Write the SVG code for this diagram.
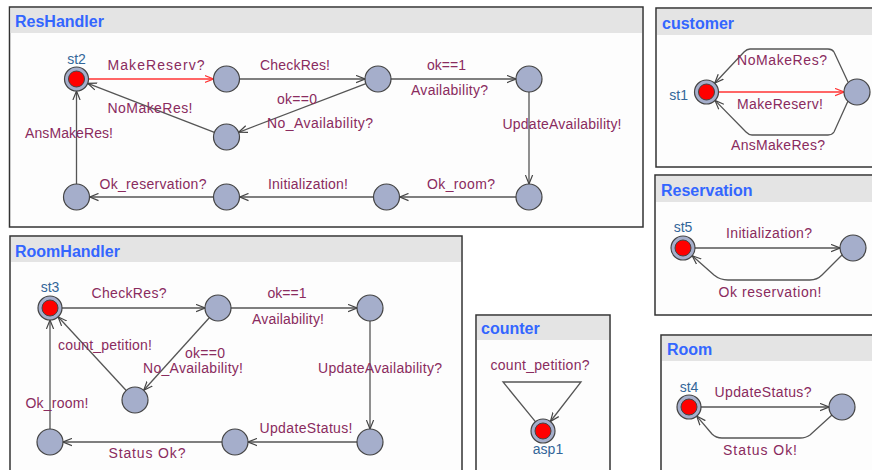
<svg xmlns="http://www.w3.org/2000/svg" width="872" height="470" viewBox="0 0 872 470">
<style>
.box{fill:#fdfdfd;stroke:#333;stroke-width:1.5}
.hdr{fill:#e4e4e4}
.title{font-family:"Liberation Sans",Arial,sans-serif;font-weight:bold;font-size:16px;fill:#3366ff}
.lbl{font-family:"Liberation Sans",Arial,sans-serif;font-size:14px;fill:#8a2b5e;text-anchor:middle}
.nm{font-family:"Liberation Sans",Arial,sans-serif;font-size:14px;fill:#336699;text-anchor:middle}
.loc{fill:#a5aecb;stroke:#444;stroke-width:1.2}
.init{fill:#ff0000;stroke:#444;stroke-width:1}
.e{fill:none;stroke:#555;stroke-width:1.3;marker-end:url(#arr)}
.er{fill:none;stroke:#ff3333;stroke-width:1.3;marker-end:url(#arrR)}
</style>
<defs>
<marker id="arr" viewBox="0 0 10 10" refX="10" refY="5" markerWidth="9" markerHeight="9" markerUnits="userSpaceOnUse" orient="auto"><path d="M0,1 L10,5 L0,9" fill="none" stroke="#444" stroke-width="1.3"/></marker>
<marker id="arrR" viewBox="0 0 10 10" refX="10" refY="5" markerWidth="9" markerHeight="9" markerUnits="userSpaceOnUse" orient="auto"><path d="M0,1 L10,5 L0,9" fill="none" stroke="#ff3333" stroke-width="1.3"/></marker>
</defs>
<rect width="872" height="470" fill="#ffffff"/>

<!-- Panels -->
<g id="panel-ResHandler">
<rect class="box" x="9.5" y="7" width="633.5" height="220"/>
<rect class="hdr" x="10.5" y="8" width="631.5" height="25"/>
<text class="title" x="15" y="27">ResHandler</text>
</g>
<g id="panel-customer">
<rect class="box" x="656" y="8" width="220" height="159"/>
<rect class="hdr" x="657" y="9" width="218" height="26"/>
<text class="title" x="662" y="29">customer</text>
</g>
<g id="panel-Reservation">
<rect class="box" x="655" y="175" width="220" height="140"/>
<rect class="hdr" x="656" y="176" width="218" height="26"/>
<text class="title" x="661" y="196">Reservation</text>
</g>
<g id="panel-RoomHandler">
<rect class="box" x="10" y="236" width="452" height="240"/>
<rect class="hdr" x="11" y="237" width="450" height="25"/>
<text class="title" x="15" y="257">RoomHandler</text>
</g>
<g id="panel-counter">
<rect class="box" x="476" y="315" width="134" height="160"/>
<rect class="hdr" x="477" y="316" width="132" height="24"/>
<text class="title" x="481" y="334">counter</text>
</g>
<g id="panel-Room">
<rect class="box" x="661" y="335" width="215" height="140"/>
<rect class="hdr" x="662" y="336" width="213" height="25"/>
<text class="title" x="667" y="355">Room</text>
</g>

<g id="connectors">
<!-- ResHandler -->
<line class="er" x1="88.5" y1="79" x2="213.5" y2="79"/>
<line class="e" x1="239.5" y1="79" x2="365" y2="79"/>
<line class="e" x1="391" y1="79" x2="516" y2="79"/>
<line class="e" x1="365.9" y1="83.7" x2="238.6" y2="132.3"/>
<line class="e" x1="214.4" y1="132.3" x2="87.7" y2="83.3"/>
<line class="e" x1="529" y1="92" x2="529" y2="184"/>
<line class="e" x1="516" y1="197" x2="399.5" y2="197"/>
<line class="e" x1="373.5" y1="197" x2="239.5" y2="197"/>
<line class="e" x1="213.5" y1="197" x2="89.5" y2="197"/>
<line class="e" x1="76.5" y1="184" x2="76.5" y2="91"/>
<text class="lbl" x="156" y="70" textLength="97">MakeReserv?</text>
<text class="lbl" x="295" y="70" textLength="70">CheckRes!</text>
<text class="lbl" x="446.5" y="70" textLength="39">ok==1</text>
<text class="lbl" x="449.5" y="95" textLength="77">Availability?</text>
<text class="lbl" x="297" y="104" textLength="40">ok==0</text>
<text class="lbl" x="320" y="128" textLength="106">No_Availability?</text>
<text class="lbl" x="150" y="113" textLength="85">NoMakeRes!</text>
<text class="lbl" x="69" y="138" textLength="88">AnsMakeRes!</text>
<text class="lbl" x="562" y="129" textLength="119">UpdateAvailability!</text>
<text class="lbl" x="461" y="189" textLength="68">Ok_room?</text>
<text class="lbl" x="308" y="189" textLength="80">Initialization!</text>
<text class="lbl" x="153" y="189" textLength="107">Ok_reservation?</text>

<!-- customer -->
<line class="er" x1="718.5" y1="92" x2="844" y2="92"/>
<path class="e" d="M848,82 L834,52 Q832,49 828,49 L750,49 Q747,49 744,52 L714.7,83.2"/>
<path class="e" d="M848,101 L834,132 Q832,135 828,135 L752,135 Q749,135 746,132 L715,100.4"/>
<text class="lbl" x="782" y="65" textLength="90">NoMakeRes?</text>
<text class="lbl" x="780" y="109" textLength="86">MakeReserv!</text>
<text class="lbl" x="778" y="150" textLength="94">AnsMakeRes?</text>

<!-- Reservation -->
<line class="e" x1="695" y1="248" x2="840" y2="248"/>
<path class="e" d="M842,255 L822,275 Q817,280 810,280 L728,280 Q720,280 714,275 L692.2,255.7"/>
<text class="lbl" x="769" y="238" textLength="86">Initialization?</text>
<text class="lbl" x="770" y="297" textLength="103">Ok  reservation!</text>

<!-- RoomHandler -->
<line class="e" x1="62" y1="308" x2="205" y2="308"/>
<line class="e" x1="231" y1="308" x2="357" y2="308"/>
<line class="e" x1="209.3" y1="317.7" x2="143.7" y2="390.3"/>
<line class="e" x1="126.2" y1="390.5" x2="58.1" y2="316.8"/>
<line class="e" x1="370" y1="321" x2="370" y2="429"/>
<line class="e" x1="357" y1="442" x2="248" y2="442"/>
<line class="e" x1="222" y1="442" x2="63" y2="442"/>
<line class="e" x1="50" y1="429" x2="50" y2="320"/>
<text class="lbl" x="129" y="298" textLength="75">CheckRes?</text>
<text class="lbl" x="287" y="298" textLength="39">ok==1</text>
<text class="lbl" x="288" y="324" textLength="72">Availability!</text>
<text class="lbl" x="105" y="350" textLength="94">count_petition!</text>
<text class="lbl" x="205" y="358" textLength="40">ok==0</text>
<text class="lbl" x="193" y="373" textLength="100">No_Availability!</text>
<text class="lbl" x="380" y="373" textLength="124">UpdateAvailability?</text>
<text class="lbl" x="57" y="408" textLength="63">Ok_room!</text>
<text class="lbl" x="306" y="433" textLength="93">UpdateStatus!</text>
<text class="lbl" x="147" y="458" textLength="77">Status  Ok?</text>

<!-- counter -->
<path class="e" d="M535.4,421.7 L503,382 L581,382 L550.4,421.5"/>
<text class="lbl" x="540" y="370" textLength="99">count_petition?</text>

<!-- Room -->
<line class="e" x1="701" y1="407" x2="829" y2="407"/>
<path class="e" d="M832,415 L810,435 Q806,438 800,438 L722,438 Q716,438 712,434 L696.8,416.1"/>
<text class="lbl" x="763" y="397" textLength="97">UpdateStatus?</text>
<text class="lbl" x="760" y="455" textLength="74">Status  Ok!</text>
</g>

<!-- ResHandler nodes -->
<g id="st2"><circle class="loc" cx="76.5" cy="79" r="12"/><circle class="init" cx="76.5" cy="79" r="8"/><text class="nm" x="76.5" y="64">st2</text></g>
<g id="rh_n2"><circle class="loc" cx="226.5" cy="79" r="13"/></g>
<g id="rh_n3"><circle class="loc" cx="378" cy="79" r="13"/></g>
<g id="rh_n4"><circle class="loc" cx="529" cy="79" r="13"/></g>
<g id="rh_n5"><circle class="loc" cx="226.5" cy="137" r="13"/></g>
<g id="rh_n6"><circle class="loc" cx="76.5" cy="197" r="13"/></g>
<g id="rh_n7"><circle class="loc" cx="226.5" cy="197" r="13"/></g>
<g id="rh_n8"><circle class="loc" cx="386.5" cy="197" r="13"/></g>
<g id="rh_n9"><circle class="loc" cx="529" cy="197" r="13"/></g>

<!-- customer nodes -->
<g id="st1"><circle class="loc" cx="706.5" cy="92" r="12"/><circle class="init" cx="706.5" cy="92" r="8"/><text class="nm" x="688" y="100" style="text-anchor:end">st1</text></g>
<g id="cu_n2"><circle class="loc" cx="857" cy="92" r="13"/></g>

<!-- Reservation nodes -->
<g id="st5"><circle class="loc" cx="683" cy="248" r="12"/><circle class="init" cx="683" cy="248" r="8"/><text class="nm" x="683" y="232">st5</text></g>
<g id="rs_n2"><circle class="loc" cx="853" cy="248" r="13"/></g>

<!-- RoomHandler nodes -->
<g id="st3"><circle class="loc" cx="50" cy="308" r="12"/><circle class="init" cx="50" cy="308" r="8"/><text class="nm" x="50" y="292">st3</text></g>
<g id="rm_n2"><circle class="loc" cx="218" cy="308" r="13"/></g>
<g id="rm_n3"><circle class="loc" cx="370" cy="308" r="13"/></g>
<g id="rm_n4"><circle class="loc" cx="135" cy="400" r="13"/></g>
<g id="rm_n5"><circle class="loc" cx="50" cy="442" r="13"/></g>
<g id="rm_n6"><circle class="loc" cx="235" cy="442" r="13"/></g>
<g id="rm_n7"><circle class="loc" cx="370" cy="442" r="13"/></g>

<!-- counter node -->
<g id="asp1"><circle class="loc" cx="543" cy="431" r="12"/><circle class="init" cx="543" cy="431" r="8"/><text class="nm" x="548" y="454">asp1</text></g>

<!-- Room nodes -->
<g id="st4"><circle class="loc" cx="689" cy="407" r="12"/><circle class="init" cx="689" cy="407" r="8"/><text class="nm" x="689" y="392">st4</text></g>
<g id="ro_n2"><circle class="loc" cx="842" cy="407" r="13"/></g>
</svg>
